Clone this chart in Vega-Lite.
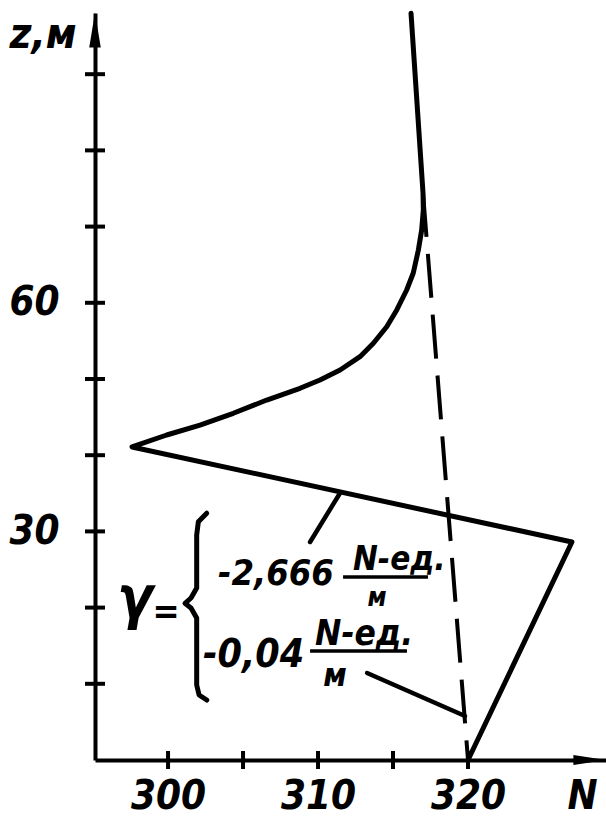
{
  "$schema": "https://vega.github.io/schema/vega-lite/v6.json",
  "width": 511,
  "height": 747,
  "autosize": "none",
  "padding": {"left": 95, "top": 13, "right": 0, "bottom": 57},
  "background": "white",
  "config": {
    "view": {"stroke": null},
    "text": {"font": "DejaVu Sans Condensed, DejaVu Sans", "fontStyle": "italic", "fontWeight": "bold", "color": "black"}
  },
  "encoding": {
    "x": {
      "field": "N",
      "type": "quantitative",
      "scale": {"domain": [295.13, 329.2], "nice": false, "zero": false},
      "axis": {
        "values": [300, 310, 320],
        "ticks": false,
        "grid": false,
        "domainColor": "black",
        "domainWidth": 4,
        "labelFont": "DejaVu Sans Condensed, DejaVu Sans",
        "labelFontStyle": "italic",
        "labelFontWeight": "bold",
        "labelFontSize": 40,
        "labelColor": "black",
        "labelPadding": 16,
        "labelBaseline": "top",
        "title": "N",
        "titleFont": "DejaVu Sans Condensed, DejaVu Sans",
        "titleFontStyle": "italic",
        "titleFontWeight": "bold",
        "titleFontSize": 40,
        "titleColor": "black",
        "titleAlign": "left",
        "titleBaseline": "bottom",
        "titleX": 472,
        "titleY": 56
      }
    },
    "y": {
      "field": "z",
      "type": "quantitative",
      "scale": {"domain": [0, 98.03], "nice": false, "zero": false},
      "axis": {
        "values": [30, 60],
        "ticks": false,
        "grid": false,
        "domainColor": "black",
        "domainWidth": 4,
        "labelFont": "DejaVu Sans Condensed, DejaVu Sans",
        "labelFontStyle": "italic",
        "labelFontWeight": "bold",
        "labelFontSize": 40,
        "labelColor": "black",
        "labelPadding": 36,
        "labelBaseline": "middle",
        "title": "z,м",
        "titleFont": "DejaVu Sans Condensed, DejaVu Sans",
        "titleFontStyle": "italic",
        "titleFontWeight": "bold",
        "titleFontSize": 42,
        "titleColor": "black",
        "titleAngle": 0,
        "titleAlign": "left",
        "titleBaseline": "alphabetic",
        "titleX": -86,
        "titleY": 34
      }
    }
  },
  "layer": [
    {
      "data": {"values": [
        {"N": 300, "z": 0}, {"N": 305, "z": 0}, {"N": 310, "z": 0}, {"N": 315, "z": 0}, {"N": 320, "z": 0}
      ]},
      "mark": {"type": "tick", "orient": "vertical", "size": 18, "thickness": 4, "color": "black", "opacity": 1}
    },
    {
      "data": {"values": [
        {"N": 295.13, "z": 10}, {"N": 295.13, "z": 20}, {"N": 295.13, "z": 30},
        {"N": 295.13, "z": 40}, {"N": 295.13, "z": 50}, {"N": 295.13, "z": 60},
        {"N": 295.13, "z": 70}, {"N": 295.13, "z": 80}, {"N": 295.13, "z": 90}
      ]},
      "mark": {"type": "tick", "orient": "horizontal", "size": 20, "thickness": 4, "color": "black", "opacity": 1}
    },
    {
      "data": {"values": [{"N": 295.13, "z": 95.8}]},
      "mark": {"type": "point", "shape": "M0,-1L0.33,1L-0.33,1Z", "size": 1225, "filled": true, "color": "black", "opacity": 1}
    },
    {
      "data": {"values": [{"N": 328.13, "z": 0}]},
      "mark": {"type": "point", "shape": "M1,0L-1,-0.3L-1,0.3Z", "size": 1100, "filled": true, "color": "black", "opacity": 1}
    },
    {
      "data": {"values": [
        {"i": 1, "N": 317.0, "z": 74.4},
        {"i": 2, "N": 320.0, "z": 0}
      ]},
      "mark": {"type": "line", "color": "black", "strokeWidth": 4, "strokeDash": [44, 17]},
      "encoding": {"order": {"field": "i", "type": "quantitative"}}
    },
    {
      "data": {"values": [
        {"i": 1, "N": 316.2, "z": 98.0},
        {"i": 2, "N": 317.0, "z": 74.4},
        {"i": 3, "N": 317.02, "z": 72.18},
        {"i": 4, "N": 316.91, "z": 69.55},
        {"i": 5, "N": 316.69, "z": 66.93},
        {"i": 6, "N": 316.35, "z": 63.91},
        {"i": 7, "N": 315.91, "z": 61.68},
        {"i": 8, "N": 315.25, "z": 59.06},
        {"i": 9, "N": 314.58, "z": 56.86},
        {"i": 10, "N": 313.69, "z": 54.69},
        {"i": 11, "N": 312.8, "z": 52.93},
        {"i": 12, "N": 311.47, "z": 51.18},
        {"i": 13, "N": 310.13, "z": 49.87},
        {"i": 14, "N": 308.8, "z": 48.78},
        {"i": 15, "N": 306.58, "z": 47.24},
        {"i": 16, "N": 304.35, "z": 45.5},
        {"i": 17, "N": 302.13, "z": 43.96},
        {"i": 18, "N": 299.91, "z": 42.65},
        {"i": 19, "N": 297.6, "z": 41.08},
        {"i": 20, "N": 326.93, "z": 28.61},
        {"i": 21, "N": 320.0, "z": 0}
      ]},
      "mark": {"type": "line", "color": "black", "strokeWidth": 5, "strokeJoin": "round", "strokeCap": "round"},
      "encoding": {"order": {"field": "i", "type": "quantitative"}}
    },
    {
      "data": {"values": [
        {"leader": "a", "i": 1, "N": 309.47, "z": 28.61},
        {"leader": "a", "i": 2, "N": 311.47, "z": 35.04},
        {"leader": "b", "i": 1, "N": 313.27, "z": 11.42},
        {"leader": "b", "i": 2, "N": 319.8, "z": 5.77}
      ]},
      "mark": {"type": "line", "color": "black", "strokeWidth": 4.5, "strokeCap": "round"},
      "encoding": {
        "detail": {"field": "leader", "type": "nominal"},
        "order": {"field": "i", "type": "quantitative"}
      }
    },
    {
      "data": {"values": [
        {"i": 1, "N": 302.58, "z": 32.38},
        {"i": 2, "N": 302.02, "z": 31.27},
        {"i": 3, "N": 301.91, "z": 29.53},
        {"i": 4, "N": 301.91, "z": 22.57},
        {"i": 5, "N": 301.53, "z": 21.26},
        {"i": 6, "N": 301.13, "z": 20.56},
        {"i": 7, "N": 301.53, "z": 19.95},
        {"i": 8, "N": 301.91, "z": 18.64},
        {"i": 9, "N": 301.91, "z": 9.84},
        {"i": 10, "N": 302.07, "z": 8.53},
        {"i": 11, "N": 302.58, "z": 7.87}
      ]},
      "mark": {"type": "line", "color": "black", "strokeWidth": 5, "strokeJoin": "round", "strokeCap": "round"},
      "encoding": {"order": {"field": "i", "type": "quantitative"}}
    },
    {
      "data": {"values": [
        {"N": 311.67, "N2": 317.33, "z": 24.02},
        {"N": 309.47, "N2": 315.93, "z": 14.3}
      ]},
      "mark": {"type": "rule", "color": "black", "strokeWidth": 3.5},
      "encoding": {"x2": {"field": "N2"}}
    },
    {
      "data": {"values": [{"N": 297.8, "z": 18.64, "label": "γ"}]},
      "mark": {"type": "text", "fontSize": 58, "align": "center", "baseline": "alphabetic"},
      "encoding": {"text": {"field": "label"}}
    },
    {
      "data": {"values": [{"N": 299.87, "z": 17.98, "label": "="}]},
      "mark": {"type": "text", "fontSize": 36, "align": "center", "baseline": "alphabetic"},
      "encoding": {"text": {"field": "label"}}
    },
    {
      "data": {"values": [{"N": 303.33, "z": 22.97, "label": "-2,666"}]},
      "mark": {"type": "text", "fontSize": 36, "align": "left", "baseline": "alphabetic"},
      "encoding": {"text": {"field": "label"}}
    },
    {
      "data": {"values": [{"N": 302.33, "z": 12.2, "label": "-0,04"}]},
      "mark": {"type": "text", "fontSize": 39, "align": "left", "baseline": "alphabetic"},
      "encoding": {"text": {"field": "label"}}
    },
    {
      "data": {"values": [{"N": 312.33, "z": 24.93, "label": "N-ед."}]},
      "mark": {"type": "text", "fontSize": 33, "align": "left", "baseline": "alphabetic"},
      "encoding": {"text": {"field": "label"}}
    },
    {
      "data": {"values": [{"N": 309.8, "z": 15.09, "label": "N-ед."}]},
      "mark": {"type": "text", "fontSize": 35, "align": "left", "baseline": "alphabetic"},
      "encoding": {"text": {"field": "label"}}
    },
    {
      "data": {"values": [{"N": 313.93, "z": 20.21, "label": "м"}]},
      "mark": {"type": "text", "fontSize": 26, "align": "center", "baseline": "alphabetic"},
      "encoding": {"text": {"field": "label"}}
    },
    {
      "data": {"values": [{"N": 311.13, "z": 9.71, "label": "м"}]},
      "mark": {"type": "text", "fontSize": 32, "align": "center", "baseline": "alphabetic"},
      "encoding": {"text": {"field": "label"}}
    }
  ]
}
